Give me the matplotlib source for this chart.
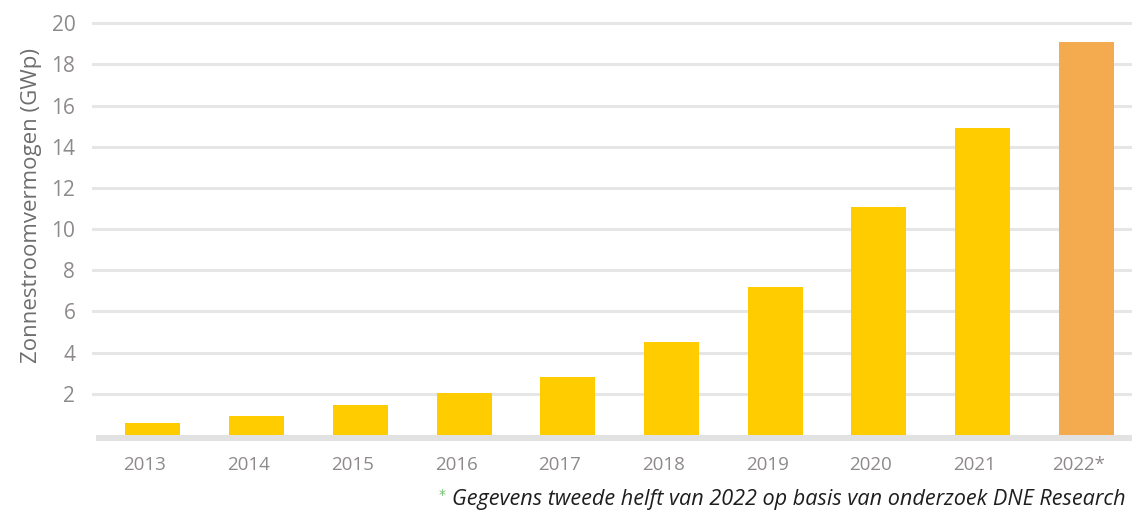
import matplotlib
matplotlib.use("Agg")
import matplotlib.pyplot as plt
import matplotlib.transforms as mtransforms

plt.rcParams['font.family'] = ['Open Sans', 'DejaVu Sans']

years = ["2013", "2014", "2015", "2016", "2017", "2018", "2019", "2020", "2021", "2022*"]
capacity_gwp = [0.58, 0.93, 1.46, 2.03, 2.8, 4.5, 7.2, 11.05, 14.9, 19.08]
bar_colors = ["#FFCC00"] * 9 + ["#F4AA4E"]
y_ticks = [2, 4, 6, 8, 10, 12, 14, 16, 18, 20]

W, H = 1132, 515
fig = plt.figure(figsize=(W / 100, H / 100), dpi=100)
ax = fig.add_axes([92 / W, 80 / H, 1 - 92 / W, 418 / H])

x = list(range(len(years)))
ax.bar(x, capacity_gwp, width=0.53, color=bar_colors, zorder=3)

ax.set_xlim(-0.588, 9.44)
ax.set_ylim(0, 20.3)

# horizontal grid
for t in y_ticks:
    ax.axhline(t, color="#E6E6E6", lw=2.2, zorder=1)

# thick base line just under the bars
ax.plot([0.004, 1], [0, 0],
        transform=mtransforms.blended_transform_factory(ax.transAxes, ax.transData)
        + mtransforms.ScaledTranslation(0, -3 / 100, fig.dpi_scale_trans),
        color="#E2E2E2", lw=4.3, solid_capstyle="butt", zorder=2, clip_on=False)

for s in ax.spines.values():
    s.set_visible(False)

ax.set_yticks(y_ticks)
ax.set_yticklabels([str(t) for t in y_ticks])
ax.set_xticks(x)
ax.set_xticklabels(years)
ax.tick_params(axis="y", length=0, pad=12, labelsize=15, labelcolor="#8E8A8A")
ax.tick_params(axis="x", length=0, pad=15, labelsize=13.5, labelcolor="#8E8A8A")
shift = mtransforms.ScaledTranslation(-8 / 100, 0, fig.dpi_scale_trans)
for lbl in ax.get_xticklabels():
    lbl.set_transform(lbl.get_transform() + shift)

ax.set_ylabel("Zonnestroomvermogen (GWp)", fontsize=16, color="#6E6E6E")
ax.yaxis.set_label_coords(-0.048, 0.55)

# footnote
fig.text(439 / W, 16 / H, "*", color="#6DC26B", fontsize=10, va="baseline",
         family="DejaVu Sans")
fig.text(452 / W, 10 / H, "Gegevens tweede helft van 2022 op basis van onderzoek DNE Research",
         fontsize=15.6, style="italic", color="#1E1E1E", va="baseline")

fig.savefig("out.png", dpi=100)
